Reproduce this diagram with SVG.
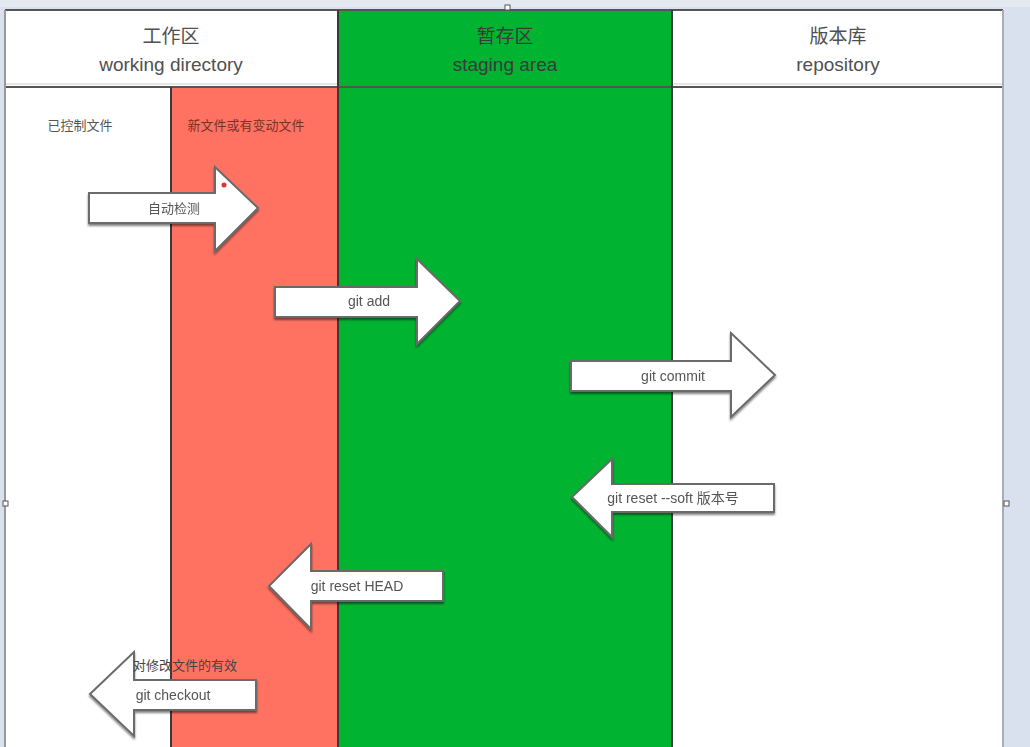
<svg xmlns="http://www.w3.org/2000/svg" width="1030" height="747" viewBox="0 0 1030 747">
<style>
.hdr{font-family:"Noto Sans CJK SC","Liberation Sans",sans-serif;font-size:19px;fill:#505050;text-anchor:middle}
.en{font-family:"Liberation Sans",sans-serif}
.lbl{font-family:"Liberation Sans","Noto Sans CJK SC",sans-serif;font-size:14px;fill:#555;text-anchor:middle}
.arrow{fill:#fff;stroke:#6a6a6a;stroke-width:2;stroke-linejoin:miter}
.col{stroke:#3a3a3a;stroke-width:2}
</style>
<defs>
<filter id="sh" x="-10%" y="-10%" width="120%" height="130%">
<feGaussianBlur in="SourceAlpha" stdDeviation="1.2"/>
<feOffset dx="0" dy="1.5"/>
<feComponentTransfer><feFuncA type="linear" slope="0.5"/></feComponentTransfer>
<feMerge><feMergeNode/><feMergeNode in="SourceGraphic"/></feMerge>
</filter>
</defs>
<rect x="0" y="0" width="1030" height="747" fill="#d9e1ef"/>
<rect x="0" y="0" width="1030" height="7" fill="#e4e8f0"/>
<g id="background">
<rect x="5" y="9" width="998" height="738" fill="#ffffff"/>
<rect x="171" y="87" width="167" height="660" fill="#ff7262"/>
<rect x="338" y="9" width="334" height="738" fill="#00b432"/>
<line x1="5" y1="10" x2="1003" y2="10" stroke="#555" stroke-width="2"/>
<line x1="5" y1="87" x2="1003" y2="87" stroke="#555" stroke-width="2"/>
<line x1="5" y1="84" x2="338" y2="84" stroke="#ccc" stroke-width="1"/>
<line x1="672" y1="84" x2="1003" y2="84" stroke="#ccc" stroke-width="1"/>
<line class="col" x1="171" y1="87" x2="171" y2="747"/>
<line class="col" x1="338" y1="10" x2="338" y2="747"/>
<line class="col" x1="672" y1="10" x2="672" y2="747"/>
<line x1="5" y1="10" x2="5" y2="747" stroke="#999" stroke-width="2"/>
<line x1="1003" y1="10" x2="1003" y2="747" stroke="#aab" stroke-width="2"/>
<rect x="505" y="5" width="5" height="5" fill="#fff" stroke="#555" stroke-width="1"/>
<rect x="3" y="501" width="5" height="5" fill="#fff" stroke="#555" stroke-width="1"/>
<rect x="1004" y="501" width="5" height="5" fill="#fff" stroke="#555" stroke-width="1"/>
</g>
<g id="header-working">
<text class="hdr" x="171" y="43">工作区</text>
<text class="hdr en" x="171" y="71">working directory</text>
</g>
<g id="header-staging">
<text class="hdr" x="505" y="43" style="fill:#3a3a3a">暂存区</text>
<text class="hdr en" x="505" y="71" style="fill:#3a3a3a">staging area</text>
</g>
<g id="header-repo">
<text class="hdr" x="838" y="43">版本库</text>
<text class="hdr en" x="838" y="71">repository</text>
</g>
<g id="label-tracked">
<text class="lbl" x="80" y="130" style="font-size:13px">已控制文件</text>
</g>
<g id="label-new">
<text class="lbl" x="246" y="130" style="font-size:13px;fill:#7a3028">新文件或有变动文件</text>
</g>
<g id="connectors">
<g id="arrow-auto" filter="url(#sh)">
<polygon class="arrow" points="89,193 215,193 215,167 258,208 215,251 215,223 89,223"/>
<text class="lbl" x="174" y="213" style="font-size:13px">自动检测</text>
<circle cx="224" cy="185" r="2.5" fill="#e03030"/>
</g>
<g id="arrow-add" filter="url(#sh)">
<polygon class="arrow" points="275,287 417,287 417,259 460,301 417,344 417,317 275,317"/>
<text class="lbl" x="369" y="306">git add</text>
</g>
<g id="arrow-commit" filter="url(#sh)">
<polygon class="arrow" points="571,361 731,361 731,333 775,375 731,417 731,391 571,391"/>
<text class="lbl" x="673" y="381">git commit</text>
</g>
<g id="arrow-reset-soft" filter="url(#sh)">
<polygon class="arrow" points="774,484 612,484 612,459 572,497 612,537 612,512 774,512"/>
<text class="lbl" x="673" y="503">git reset --soft 版本号</text>
</g>
<g id="arrow-reset-head" filter="url(#sh)">
<polygon class="arrow" points="443,571 311,571 311,544 269,586 311,629 311,601 443,601"/>
<text class="lbl" x="357" y="591">git reset HEAD</text>
</g>
<g id="arrow-checkout" filter="url(#sh)">
<polygon class="arrow" points="256,680 134,680 134,652 90,694 134,736 134,710 256,710"/>
<text class="lbl" x="173" y="700">git checkout</text>
</g>
</g>
<g id="label-checkout-note">
<text class="lbl" x="185" y="670" style="font-size:13px;fill:#444">对修改文件的有效</text>
</g>
</svg>
